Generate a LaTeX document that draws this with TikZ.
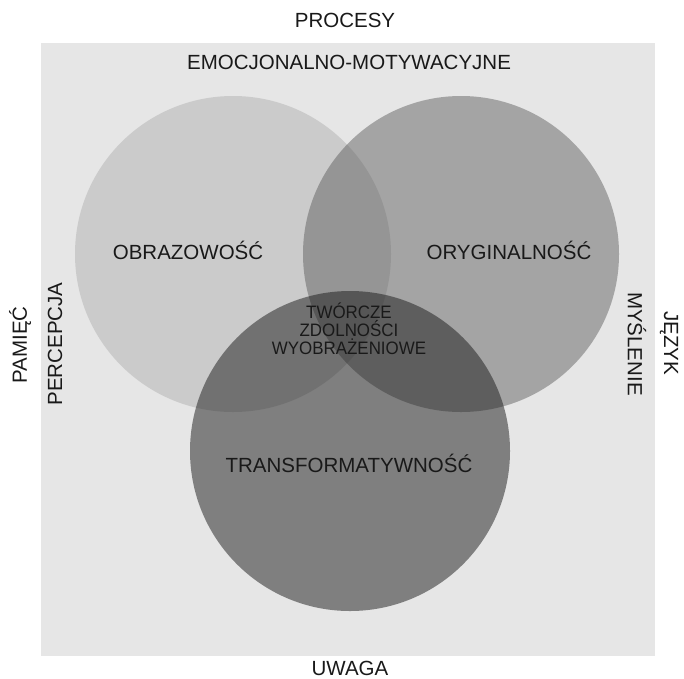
\documentclass[tikz,border=0pt]{standalone}
\usepackage{fontspec}
\setmainfont{Liberation Sans}
\newfontfamily\narrowsans[FakeStretch=0.94]{Liberation Sans}
\usepackage{xcolor}
\usepackage{tikz}

\definecolor{fieldgray}{gray}{0.902}
\definecolor{obrgray}{gray}{0.796}
\definecolor{orygray}{gray}{0.32}
\definecolor{trfgray}{gray}{0.10}

\begin{document}
\begin{tikzpicture}[
  x=1pt, y=-1pt,
  ring/.style={circle, minimum size=316pt, inner sep=0pt, draw=none},
  lab/.style={font=\fontsize{20.5}{24}\selectfont, text=black!90, inner sep=0pt},
  core/.style={font=\narrowsans\fontsize{18}{18}\selectfont, text=black!90,
               align=center, inner sep=0pt},
]

\def\rC{254}   % centre row of the two upper circles
\def\rT{451}   % centre of the lower circle

\useasboundingbox (0,0) rectangle (684,678);

% ============ field ========================================================
\node[fill=fieldgray, minimum width=614pt, minimum height=613pt, inner sep=0pt]
  (field) at (348,349.5) {};

% ============ circles ======================================================
\node[ring, fill=obrgray]                         (cobr) at (233,\rC) {};
\node[ring, fill=orygray, fill opacity=0.444]     (cory) at (461,\rC) {};
\node[ring, minimum size=320pt, fill=trfgray, fill opacity=0.5]
                                                  (ctrf) at (350,\rT) {};

% ============ labels in the circles ========================================
\node[lab]  (obraz)   at (188,250) {OBRAZOWOŚĆ};
\node[lab]  (orygin)  at (509,250) {ORYGINALNOŚĆ};
\node[lab]  (transf)  at (349,463) {TRANSFORMATYWNOŚĆ};
\node[core] (tworcze) at (349,329) {TWÓRCZE\\ZDOLNOŚCI\\WYOBRAŻENIOWE};

% ============ processes round the field ====================================
\node[lab] (procesy) at (345,20)  {PROCESY};
\node[lab] (emoc)    at (349,62)  {EMOCJONALNO-MOTYWACYJNE};
\node[lab] (uwaga)   at (350,668) {UWAGA};
\node[lab, rotate=90]  (pamiec) at (20,345)  {PAMIĘĆ};
\node[lab, rotate=90]  (percep) at (55,344)  {PERCEPCJA};
\node[lab, rotate=-90] (jezyk)  at (669,343) {JĘZYK};
\node[lab, rotate=-90] (myslen) at (637,344) {MYŚLENIE};

\end{tikzpicture}
\end{document}
